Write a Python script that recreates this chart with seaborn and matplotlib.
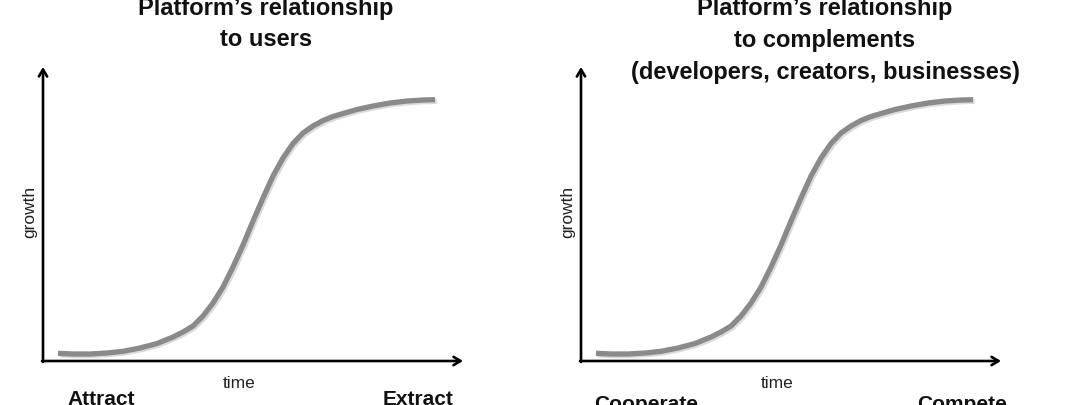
import matplotlib
matplotlib.use("Agg")
import matplotlib.pyplot as plt
import matplotlib.patheffects as pe
import seaborn as sns

# S-curve (time along x, growth along y)
time = [15, 30, 47, 64, 80, 97, 114, 130, 140, 150, 160, 170, 180, 190, 200,
        210, 220, 230, 240, 250, 260, 270, 280, 290, 300, 314, 330, 347, 364,
        380, 392]
growth = [7.7, 7.0, 7.0, 8.0, 9.7, 13, 17.5, 24, 29, 35, 45, 58, 74, 94,
          116, 140, 163, 185, 203, 217.5, 228, 235, 240.5, 244.5, 247.5, 251.5,
          255, 258, 260, 261, 261.3]

titles = [["Platform\u2019s relationship", "to users"],
          ["Platform\u2019s relationship", "to complements",
           "(developers, creators, businesses)"]]
left_labels = ["Attract", "Cooperate"]
right_labels = ["Extract", "Compete"]

sns.set_style("white")
plt.rcParams["font.family"] = ["Liberation Sans", "DejaVu Sans"]

W, H = 1080, 406
fig = plt.figure(figsize=(W / 100, H / 100), dpi=100)

x_len, y_len = 420, 294
pad = 10
panel_x = [43, 581]
base_y = 362

for i, px in enumerate(panel_x):
    ax = fig.add_axes([(px - pad) / W, (H - base_y - pad) / H,
                       (x_len + 2 * pad) / W, (y_len + 2 * pad) / H])
    ax.set_xlim(-pad, x_len + pad)
    ax.set_ylim(-pad, y_len + pad)
    ax.axis("off")

    sns.lineplot(x=time, y=growth, ax=ax, sort=False, color="#8a8a8a",
                 linewidth=3.8, solid_capstyle="butt", solid_joinstyle="round",
                 path_effects=[pe.SimpleLineShadow(offset=(1.2, -1.2),
                                                   shadow_color="#999999",
                                                   alpha=0.35),
                               pe.Normal()])

    arrow = dict(arrowstyle="->,head_length=0.5,head_width=0.3",
                 color="black", lw=1.9, shrinkA=0, shrinkB=0)
    ax.annotate("", xy=(0, y_len), xytext=(0, -1), arrowprops=arrow)
    ax.annotate("", xy=(x_len, 0), xytext=(-1, 0), arrowprops=arrow)

    # texts in figure pixel positions
    def ftext(x, y, s, **kw):
        fig.text(x / W, 1 - y / H, s, ha="center", va="center", **kw)

    cx = 266 if i == 0 else 825
    for j, line in enumerate(titles[i]):
        ftext(cx, 8 + 32 * j, line, fontsize=17, fontweight="bold",
              color="#111111")

    ftext(px + 196, 384, "time", fontsize=12.5, color="#222222")
    ftext(px - 13, 212, "growth", fontsize=12.5, color="#222222",
          rotation=90)
    low_y = 400 if i == 0 else 405
    ftext(px + (58 if i == 0 else 65), low_y, left_labels[i], fontsize=15,
          fontweight="bold", color="#111111")
    ftext(px + (375 if i == 0 else 381), low_y, right_labels[i], fontsize=15,
          fontweight="bold", color="#111111")

fig.savefig("out.png", dpi=100, facecolor="white")
